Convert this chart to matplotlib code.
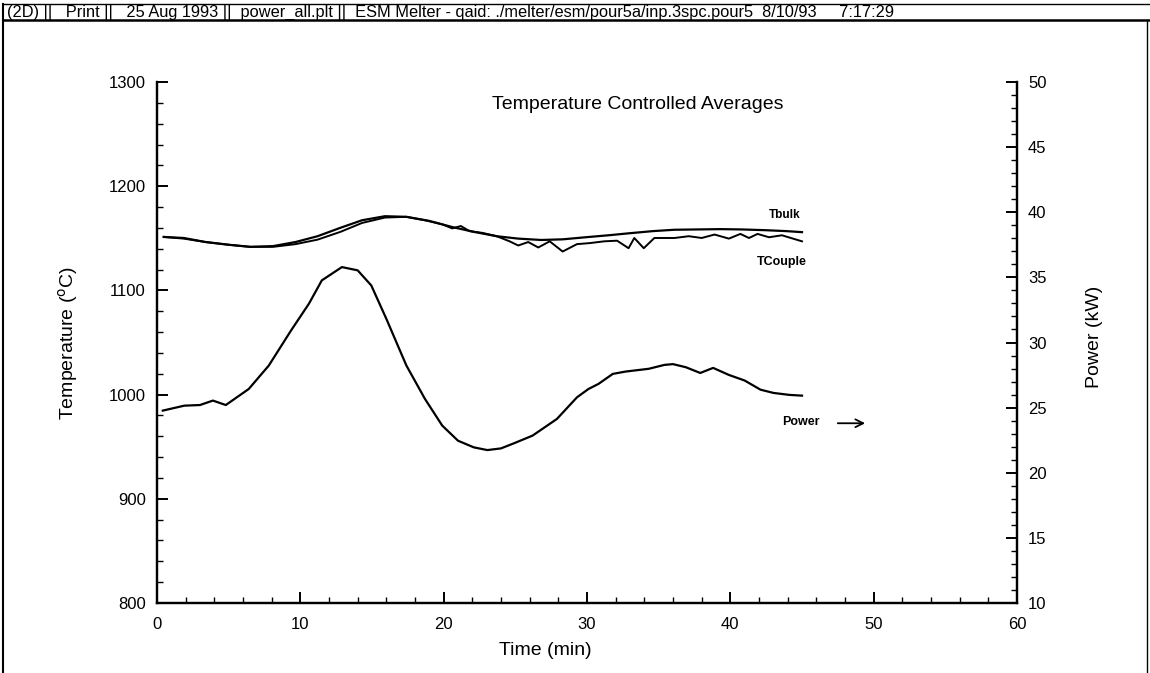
import matplotlib
matplotlib.use("Agg")
import matplotlib.pyplot as plt
from matplotlib.lines import Line2D
from matplotlib.ticker import MultipleLocator

plt.rcParams['font.family'] = ['Liberation Sans', 'DejaVu Sans']

# Power (kW) vs time (min)
power_t = [0.4, 1.9, 3.0, 3.9, 4.8, 6.4, 7.8, 9.35, 10.6, 11.5, 12.9, 14.0, 14.95,
           16.0, 17.4, 18.7, 19.9, 21.0, 22.1, 23.05, 24.0, 24.9, 26.2, 27.9, 29.3,
           30.1, 30.8, 31.8, 32.7, 34.3, 35.4, 36.0, 36.9, 37.9, 38.8, 39.9, 41.0,
           42.1, 43.0, 44.1, 45.0]
power_kw = [24.77, 25.15, 25.2, 25.54, 25.2, 26.43, 28.23, 30.92, 32.98, 34.77, 35.79,
            35.54, 34.38, 31.82, 28.23, 25.66, 23.62, 22.46, 21.95, 21.74, 21.87, 22.26,
            22.85, 24.13, 25.79, 26.43, 26.82, 27.59, 27.77, 27.98, 28.28, 28.34, 28.1,
            27.66, 28.05, 27.51, 27.08, 26.38, 26.13, 25.98, 25.92]

# Bulk temperature (C)
tbulk_t = [0.47, 1.87, 3.4, 5.0, 6.5, 8.1, 9.66, 11.2, 12.8, 14.3, 15.9, 17.4, 19.0,
           20.6, 22.1, 23.7, 25.2, 26.8, 28.3, 29.9, 31.5, 33.0, 34.6, 36.1, 37.7,
           39.3, 40.8, 42.4, 43.9, 45.0]
tbulk = [1151.3, 1150.3, 1146.4, 1143.8, 1141.8, 1142.5, 1146.4, 1152.0, 1160.1, 1167.3,
         1171.2, 1170.6, 1166.7, 1160.8, 1156.2, 1152.0, 1149.7, 1148.4, 1149.0, 1151.0,
         1152.9, 1154.9, 1156.9, 1158.2, 1158.5, 1158.8, 1158.5, 1157.8, 1156.9, 1155.9]

# Thermocouple temperature (C)
tcouple_t = [0.47, 1.87, 3.4, 5.0, 6.5, 8.1, 9.66, 11.2, 12.8, 14.3, 15.9, 17.4, 18.7,
             19.9, 20.6, 21.2, 21.8, 22.7, 23.7, 24.6, 25.2, 25.9, 26.6, 27.4, 28.3,
             29.3, 30.2, 31.2, 32.1, 32.9, 33.3, 33.96, 34.7, 36.1, 37.1, 38.0, 38.9,
             39.9, 40.7, 41.3, 41.9, 42.7, 43.6, 45.0]
tcouple = [1151.3, 1149.7, 1146.4, 1143.8, 1141.8, 1141.8, 1144.4, 1148.7, 1156.2, 1164.7,
           1169.9, 1170.6, 1167.3, 1163.4, 1159.5, 1161.8, 1156.9, 1155.2, 1152.0, 1147.1,
           1143.1, 1146.4, 1141.2, 1147.1, 1137.3, 1144.4, 1145.4, 1147.1, 1147.7, 1140.5,
           1150.3, 1140.5, 1150.3, 1150.3, 1152.0, 1150.3, 1153.6, 1149.7, 1154.2, 1150.3,
           1154.2, 1151.0, 1152.9, 1147.1]

header = ("(2D) ||   Print ||   25 Aug 1993 ||  power_all.plt ||  ESM Melter - qaid: "
          "./melter/esm/pour5a/inp.3spc.pour5  8/10/93     7:17:29")

fig = plt.figure(figsize=(11.5, 6.73), dpi=100)
ax = fig.add_axes([157 / 1150, 1 - 603 / 673, 860 / 1150, 521 / 673])
ax2 = ax.twinx()

ax.plot(tbulk_t, tbulk, color='black', lw=1.6)
ax.plot(tcouple_t, tcouple, color='black', lw=1.4)
ax2.plot(power_t, power_kw, color='black', lw=1.6)

ax.set_xlim(0, 60)
ax.set_ylim(800, 1300)
ax2.set_ylim(10, 50)

ax.xaxis.set_major_locator(MultipleLocator(10))
ax.xaxis.set_minor_locator(MultipleLocator(2))
ax.yaxis.set_major_locator(MultipleLocator(100))
ax.yaxis.set_minor_locator(MultipleLocator(20))
ax2.yaxis.set_major_locator(MultipleLocator(5))
ax2.yaxis.set_minor_locator(MultipleLocator(1))

for a in (ax, ax2):
    a.spines['top'].set_visible(False)
    for s in ('left', 'right', 'bottom'):
        a.spines[s].set_linewidth(1.6)
    a.tick_params(which='major', direction='in', length=8, width=1.4, labelsize=12)
    a.tick_params(which='minor', direction='in', length=4, width=1.0)
ax.tick_params(axis='x', pad=10)
ax.tick_params(axis='y', pad=8)
ax2.tick_params(axis='y', pad=8)

ax.set_ylabel('Temperature ($^{\\rm o}$C)', fontsize=14)
ax.yaxis.set_label_coords(-0.0895, 0.5)
ax2.set_ylabel('Power (kW)', fontsize=14)
ax2.yaxis.set_label_coords(1.080, 0.51)
ax.set_xlabel('Time (min)', fontsize=14)
ax.xaxis.set_label_coords(0.451, -0.075)

ax.text(0.559, 0.956, 'Temperature Controlled Averages', transform=ax.transAxes,
        ha='center', va='center', fontsize=14)

ax.text(43.8, 1172, 'Tbulk', ha='center', va='center', fontsize=8.5, fontweight='bold')
ax.text(43.6, 1127, 'TCouple', ha='center', va='center', fontsize=9, fontweight='bold')
ax.text(44.9, 974, 'Power', ha='center', va='center', fontsize=9, fontweight='bold')
ax.annotate('', xy=(49.6, 972.5), xytext=(47.3, 972.5),
            arrowprops=dict(arrowstyle='->', lw=1.3, color='black', mutation_scale=14))

# page frame and header strip
fig.add_artist(Line2D([3 / 1150, 3 / 1150], [0, 1 - 4 / 673], color='black', lw=1.5))
fig.add_artist(Line2D([1147 / 1150, 1147 / 1150], [0, 1 - 20 / 673], color='black', lw=1.0))
fig.add_artist(Line2D([3 / 1150, 1], [1 - 4 / 673, 1 - 4 / 673], color='black', lw=1.0))
fig.add_artist(Line2D([3 / 1150, 1], [1 - 20 / 673, 1 - 20 / 673], color='black', lw=1.8))
fig.text(7 / 1150, 1 - 12 / 673, header, ha='left', va='center', fontsize=11.8)

fig.savefig('out.png', dpi=100)
